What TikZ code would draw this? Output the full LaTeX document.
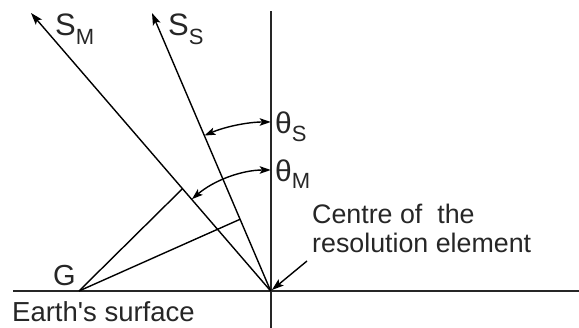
\documentclass[tikz,border=0pt]{standalone}
\usepackage{fontspec}
\setmainfont{Liberation Sans}
\usetikzlibrary{arrows.meta,calc}
\begin{document}
\begin{tikzpicture}[x=1pt,y=1pt,
  thinline/.style={line width=1.4pt,draw=black},
  axisline/.style={line width=2pt,draw=black!85},
  tip/.style={-{Stealth[length=12pt,width=8pt,inset=2.5pt]}},
  dtip/.style={{Stealth[length=11pt,width=7.5pt,inset=2.5pt]}-{Stealth[length=11pt,width=7.5pt,inset=2.5pt]}},
  lbl/.style={inner sep=0pt,anchor=base west,text=black!85},
  bigtxt/.style={lbl,font=\fontsize{27.5}{30}\selectfont},
  ctxt/.style={lbl,font=\fontsize{26.8}{29}\selectfont}]
\useasboundingbox (0,0) rectangle (579,328);
% key points
\coordinate (O) at (270.7,37);
\coordinate (vtop) at (270.7,317);
\coordinate (vbot) at (270.7,0);
\coordinate (hleft) at (13,37);
\coordinate (hright) at (579,37);
\coordinate (SMtip) at (31,315);
\coordinate (SStip) at (152,315);
\coordinate (G) at (79,37);
\coordinate (fM) at ($(O)!0.368!(SMtip)$);
\coordinate (fS) at ($(O)!0.258!(SStip)$);
\coordinate (cstart) at (307,67);
% axes
\draw[axisline] (vbot) -- (vtop);
\draw[axisline] (hleft) -- (hright);
% rays
\draw[thinline,tip] (O) -- (SMtip);
\draw[thinline,tip] (O) -- (SStip);
% projections from G
\draw[thinline] (G) -- (fM);
\draw[thinline] (G) -- (fS);
% angle arcs
\draw[thinline,dtip] ([shift={(113.1:169)}]O) arc[start angle=113.1,end angle=90,radius=169];
\draw[thinline,dtip] ([shift={(130.6:121)}]O) arc[start angle=130.6,end angle=90,radius=121];
% centre arrow
\draw[thinline,tip,shorten >=1.5pt] (cstart) -- (O);
% labels
\node[lbl] (lSM) at (55,292) {\fontsize{31}{31}\selectfont S\raisebox{-9pt}{\fontsize{22}{22}\selectfont M}};
\node[lbl] (lSS) at (168,292) {\fontsize{31}{31}\selectfont S\raisebox{-9pt}{\fontsize{22}{22}\selectfont S}};
\node[lbl] (lthS) at (275,194) {\fontsize{30}{30}\selectfont θ\raisebox{-8pt}{\fontsize{22}{22}\selectfont S}};
\node[lbl] (lthM) at (275,146) {\fontsize{30}{30}\selectfont θ\raisebox{-7pt}{\fontsize{22}{22}\selectfont M}};
\node[lbl,font=\fontsize{29}{29}\selectfont] (lG) at (53,42) {G};
\node[bigtxt] (lES) at (12,6.5) {Earth\textquotesingle s surface};
\node[ctxt] (lC1) at (312,104) {Centre of\ \ the};
\node[ctxt] (lC2) at (312,75) {resolution element};
\end{tikzpicture}
\end{document}
